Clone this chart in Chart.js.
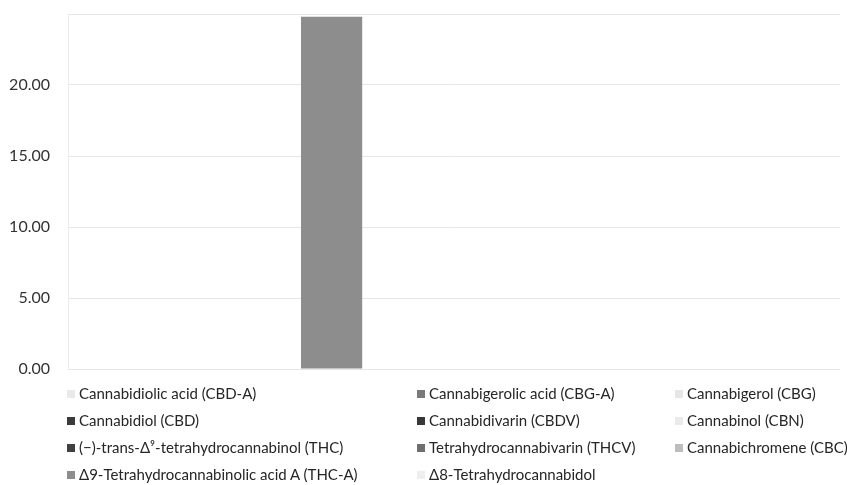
<!DOCTYPE html>
<html>
<head>
<meta charset="utf-8">
<script src="https://cdn.jsdelivr.net/npm/chart.js@4.4.1/dist/chart.umd.min.js"></script>
<style>
  body { margin: 0; background: #fff; width: 847px; height: 485px; overflow: hidden; position: relative; font-family: Lato, "Open Sans", sans-serif; }
  #chart { position: absolute; left: 0; top: 0; }
  #legend { position: absolute; left: 67px; top: 380px; display: grid; grid-template-columns: 350px 258px 200px; grid-auto-rows: 27px; }
  .item { display: flex; align-items: center; white-space: nowrap; font-size: 15px; color: #262626; line-height: 27px; }
  .sw { width: 8px; height: 8px; margin-right: 4px; flex: none; }
</style>
</head>
<body>
<canvas id="chart" width="847" height="384"></canvas>
<div id="legend"></div>
<script>
// one sample, one value per compound (legend read column by column)
const categories = ['Sample'];
const compounds = [
    'Cannabidiolic acid (CBD-A)',
    'Cannabidiol (CBD)',
    '(\u2212)-trans-\u0394\u2079-tetrahydrocannabinol (THC)',
    '\u03949-Tetrahydrocannabinolic acid A (THC-A)',
    'Cannabigerolic acid (CBG-A)',
    'Cannabidivarin (CBDV)',
    'Tetrahydrocannabivarin (THCV)',
    '\u03948-Tetrahydrocannabidol',
    'Cannabigerol (CBG)',
    'Cannabinol (CBN)',
    'Cannabichromene (CBC)'
];
const values = [0, 0, 0, 24.8, 0, 0, 0, 0, 0, 0, 0];
const colors = ['#e9e9e9', '#3a3a3a', '#404040', '#8d8d8d', '#7a7a7a', '#383838',
                '#6e6e6e', '#eeeeee', '#e6e6e6', '#eaeaea', '#bdbdbd'];
const yTicks = [0, 5, 10, 15, 20, 25];

const datasets = compounds.map((name, i) => ({
    label: name,
    data: [values[i]],
    backgroundColor: colors[i],
    borderWidth: 0,
    categoryPercentage: 0.872,
    barPercentage: 1
}));

new Chart(document.getElementById('chart').getContext('2d'), {
    type: 'bar',
    data: { labels: categories, datasets: datasets },
    options: {
        responsive: false,
        animation: false,
        layout: { padding: { left: 0, right: 7, top: 14, bottom: 15 } },
        plugins: { legend: { display: false }, tooltip: { enabled: false } },
        scales: {
            x: { display: false },
            y: {
                min: 0,
                max: 25,
                afterBuildTicks: scale => { scale.ticks = yTicks.map(v => ({ value: v })); },
                afterFit: scale => { scale.width = 68; },
                // invisible tick marks give the gap between labels and axis
                grid: { color: '#e6e6e6', drawTicks: true, tickLength: 18, tickColor: 'rgba(0,0,0,0)' },
                border: { display: true, color: '#ececec' },
                ticks: {
                    padding: 0,
                    color: '#333',
                    font: { family: 'Lato', size: 16 },
                    callback: v => v === 25 ? '' : v.toFixed(2)
                }
            }
        }
    }
});

// legend in the reference's 3-column layout
const legend = document.getElementById('legend');
const nRows = 4;
compounds.forEach((name, i) => {
    const item = document.createElement('div');
    item.className = 'item';
    item.style.gridColumn = Math.floor(i / nRows) + 1;
    item.style.gridRow = (i % nRows) + 1;
    const sw = document.createElement('span');
    sw.className = 'sw';
    sw.style.background = colors[i];
    item.appendChild(sw);
    item.appendChild(document.createTextNode(name));
    legend.appendChild(item);
});
</script>
</body>
</html>
